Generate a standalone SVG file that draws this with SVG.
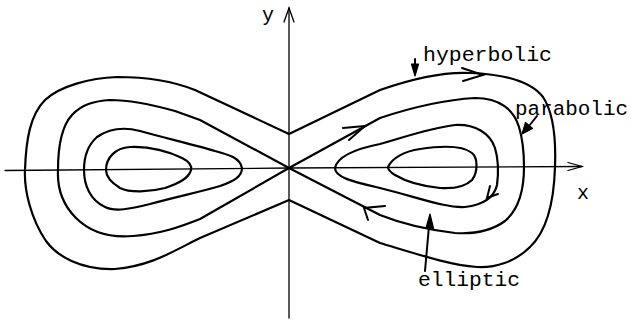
<svg xmlns="http://www.w3.org/2000/svg" width="631" height="323" viewBox="0 0 631 323">
<style>
.c{fill:none;stroke:#000;stroke-width:2.2;stroke-linejoin:round;stroke-linecap:round}
.ax{fill:none;stroke:#000;stroke-width:1.3;stroke-linecap:round}
.ch{fill:none;stroke:#000;stroke-width:2;stroke-linejoin:miter;stroke-linecap:round}
.t{font-family:"Liberation Mono","DejaVu Sans Mono",monospace;font-size:20px;fill:#000}
.hd{fill:#000;stroke:#000;stroke-width:1.2;stroke-linejoin:round}
.ln{fill:none;stroke:#000;stroke-width:2;stroke-linecap:round}
</style>
<rect width="631" height="323" fill="#fff"/>
<g id="axes">
<path class="ax" d="M5,170.5 L289,168 L582,166.5"/>
<path class="ax" d="M568,162.5 L582,166.5 L568,170.5"/>
<path class="ax" d="M289,318 L289,8"/>
<path class="ax" d="M284,22 L289,8 L294,22"/>
<text class="t" x="262" y="21">y</text>
<text class="t" x="577" y="199">x</text>
</g>
<g id="curves">
<path id="hyperbolic-orbit" class="c" d="M289,134 L380,90 C420,76 450,72 470,73 C500,74 530,80 543,97 C553,112 556,140 555,167 C554,200 548,230 530,247 C515,262 495,268 477,267 C450,265 420,255 380,243 L289,200 L200,238 C170,253 150,266 115,269 C80,270 57,256 46,241 C31,219 24,190 25,170 C26,140 30,115 45,100 C60,86 90,78 117,77 C150,77 175,82 195,90 L289,134 Z"/>
<path id="parabolic-orbit" class="c" d="M289,168 L380,118 C410,108 440,100 475,98 C500,98 514,110 519,127 C523,140 524,155 524,167 C524,190 518,210 505,221 C490,232 470,234 455,233 C430,230 405,225 380,215 L289,168 L200,219 C180,227 160,234 133,236 C110,238 90,232 76,218 C63,205 57,190 58,170 C58,150 60,128 72,115 C82,104 95,101 110,100 C130,100 150,104 175,111 L200,120 Z"/>
<path id="elliptic-left-outer" class="c" d="M242,168 C240,158 230,155 215,151 C195,145 165,138 140,131 C125,127 110,128 97,137 C88,145 84,158 84,170 C84,185 90,200 105,207 C115,212 130,209 150,204 C175,197 200,192 220,186 C235,181 242,176 242,168 Z"/>
<path id="elliptic-left-inner" class="c" d="M106,170 C106,158 115,148 130,147 C150,146 170,152 182,158 C190,162 192,166 191,170 C189,178 180,183 165,188 C150,192 130,193 120,188 C112,183 106,177 106,170 Z"/>
<path id="elliptic-right-outer" class="c" d="M335,168 C337,158 350,150 380,144 C405,137 430,128 455,125 C475,124 490,133 495,148 C498,158 499,170 497,185 C494,198 482,205 465,207 C445,208 420,198 380,188 C355,182 335,178 335,168 Z"/>
<path id="elliptic-right-inner" class="c" d="M388,167 C392,158 405,151 420,149 C440,146 462,145 472,153 C478,158 478,172 472,180 C465,187 455,189 440,188 C420,186 405,181 395,175 C390,172 388,170 388,167 Z"/>
</g>
<g id="flow-arrows">
<path class="ch" d="M343,128 L365,126 L349,140"/>
<path class="ch" d="M462,68 L483,75 L463,81"/>
<path class="ch" d="M385,206 L364,208 L368,220"/>
<path class="ch" d="M490,186 L487,198 L498,194"/>
</g>
<g id="label-hyperbolic">
<text class="t" x="423" y="61" textLength="129" lengthAdjust="spacingAndGlyphs">hyperbolic</text>
<path class="ln" d="M415,59 L415,65"/>
<path class="hd" d="M411.5,64 L418.5,64 L415,76 Z"/>
</g>
<g id="label-parabolic">
<text class="t" x="515" y="115" textLength="113" lengthAdjust="spacingAndGlyphs">parabolic</text>
<path class="ln" d="M537,116 L529,126"/>
<path class="hd" d="M532.5,128.5 L525.5,122.5 L522,134 Z"/>
</g>
<g id="label-elliptic">
<text class="t" x="418" y="286" textLength="102" lengthAdjust="spacingAndGlyphs">elliptic</text>
<path class="ln" d="M425,271 L429,226"/>
<path class="hd" d="M426,228 L433.5,228.5 L430,214 Z"/>
</g>
</svg>
